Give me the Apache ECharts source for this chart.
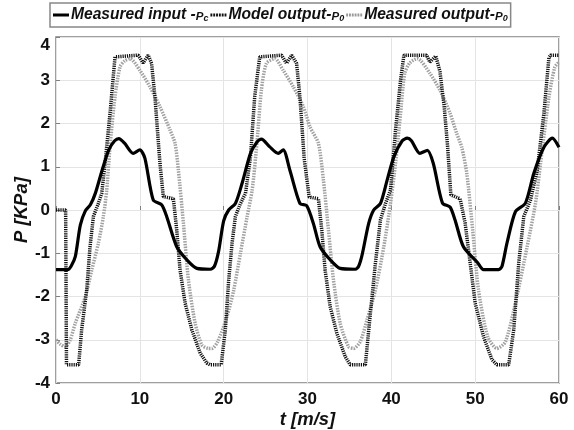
<!DOCTYPE html>
<html>
<head>
<meta charset="utf-8">
<script src="https://cdn.jsdelivr.net/npm/echarts@6/dist/echarts.min.js"></script>
<style>html,body{margin:0;padding:0;background:#fff}#c{width:574px;height:430px}</style>
</head>
<body>
<div id="c"></div>
<script>
// Measured input - Pc (solid black)
var inputT = [0,1.4,1.8,2.3,2.9,3.5,4.1,4.7,5.5,6.3,7.0,7.5,8.2,9.2,10.0,10.6,11.6,12.6,13.2,14.4,15.6,16.8,18.4,18.9,19.4,20.0,20.6,21.4,22.2,23.2,24.0,24.5,25.5,26.5,27.1,27.9,29.1,29.9,30.7,31.5,32.7,33.9,35.7,36.1,36.5,37.3,37.9,38.7,39.5,40.3,41.3,41.9,42.4,43.4,44.3,45.0,46.1,47.0,47.6,48.6,50.3,51.0,52.8,53.2,53.8,54.8,56.0,57.0,58.2,59.2,60];
var inputP = [-1.38,-1.38,-1.3,-1.08,-0.35,-0.02,0.12,0.39,0.92,1.39,1.6,1.65,1.54,1.31,1.39,1.2,0.23,0.12,-0.15,-0.85,-1.15,-1.35,-1.37,-1.3,-0.95,-0.25,0,0.15,0.62,1.31,1.58,1.64,1.46,1.31,1.39,0.92,0.15,0.1,-0.31,-0.85,-1.15,-1.35,-1.37,-1.3,-1.05,-0.31,0,0.15,0.69,1.23,1.6,1.66,1.6,1.31,1.38,1.08,0.16,0.07,-0.23,-0.85,-1.22,-1.38,-1.38,-1.3,-0.76,-0.04,0.16,0.85,1.45,1.66,1.45];

// Model output - P0 (dark dotted)
var modelT = [0,1.15,1.25,2.7,3.06,3.66,4.06,4.46,5.05,5.45,5.85,6.44,7.04,7.24,9.8,10.4,11.0,11.4,11.8,12.4,12.8,14.0,14.4,14.8,15.4,16.2,17.2,18.0,18.4,19.7,20.2,20.6,21.0,21.4,22.0,22.6,23.2,23.7,24.3,24.5,26.9,27.5,28.1,28.7,29.1,29.6,30.2,31.3,31.7,32.1,32.7,33.5,34.5,35.1,36.9,37.5,38.1,38.7,39.3,39.9,40.5,41.1,41.5,44.2,44.6,45.3,45.8,46.3,46.7,47.1,48.2,48.8,49.4,50.0,51.0,52.0,52.6,54.0,54.6,55.2,55.8,56.6,57.4,58.2,58.8,59.0,60];
var modelP = [0,0,-3.58,-3.58,-2.77,-1.85,-0.85,-0.15,0.15,0.38,1.08,2.23,3.54,3.58,3.58,3.4,3.58,3.39,2.62,1.08,0.31,0.26,-0.46,-1.39,-2.15,-2.77,-3.31,-3.54,-3.58,-3.58,-2.77,-1.62,-0.77,-0.15,0.15,0.38,1.23,2.62,3.54,3.58,3.58,3.39,3.58,3.39,2.6,1.2,0.3,0.26,-0.46,-1.39,-2.23,-2.85,-3.39,-3.58,-3.58,-2.39,-1.23,-0.23,0.15,0.46,1.85,3.0,3.58,3.58,3.42,3.56,3.2,2.4,1.5,0.35,0.26,-0.3,-1.22,-2.15,-2.93,-3.46,-3.58,-3.58,-2.77,-1.22,-0.15,0.23,0.92,2.24,3.53,3.58,3.58];

// Measured output - P0 (gray dotted)
var measT = [0,0.5,1.1,1.7,2.3,3.5,4.26,5.05,5.65,6.05,6.44,7.04,7.64,8.2,8.83,10.0,11.2,12.4,13.6,14.2,14.6,15.2,15.8,16.6,17.4,18.2,18.6,19.3,20.4,21.2,22.0,22.8,23.4,24.0,24.5,25.1,26.1,27.1,28.3,29.5,30.3,31.3,31.9,32.5,33.1,33.9,34.9,35.5,36.3,37.1,38.1,39.1,39.9,40.5,41.1,41.6,42.2,43.1,44.6,45.8,47.0,47.8,48.4,49.0,49.7,50.4,51.5,52.6,53.6,54.8,56.2,57.2,57.8,58.8,59.5,60];
var measP = [-3.0,-3.1,-3.16,-3.0,-2.62,-2.0,-1.39,-0.77,-0.15,0.46,1.46,2.62,3.31,3.45,3.5,3.23,2.85,2.39,1.85,1.54,0.92,-0.31,-1.62,-2.62,-3.12,-3.2,-3.2,-3.04,-2.46,-1.85,-1.0,-0.15,0.46,1.62,2.77,3.39,3.5,3.23,2.85,2.39,1.92,1.54,0.69,-0.46,-1.62,-2.62,-3.16,-3.2,-3.04,-2.54,-1.85,-0.85,0.15,1.08,2.23,3.16,3.4,3.5,3.16,2.77,2.24,1.77,1.45,0.85,-0.46,-1.85,-2.93,-3.2,-3.05,-2.15,-0.85,0.16,1.08,2.61,3.3,3.42];

var xTicks = [0,10,20,30,40,50,60];
var yTicks = [-4,-3,-2,-1,0,1,2,3,4];
var seriesNames = ['Measured input', 'Model output', 'Measured output'];
var legendLabels = ['Measured input -{p|P}{s|c}', 'Model output-{p|P}{s|0}', 'Measured output-{p|P}{s|0}'];

function zip(t, p) { return t.map(function (v, i) { return [v, p[i]]; }); }

var FONT = '"Liberation Sans", Arial, sans-serif';
var DOTS = 'path://M0,0h2v3h-2zM3,0h2v3h-2zM6,0h2v3h-2zM9,0h2v3h-2zM12,0h2v3h-2zM15,0h2v3h-2z';
var chart = echarts.init(document.getElementById('c'), null, { renderer: 'canvas' });
chart.setOption({
  animation: false,
  backgroundColor: '#fff',
  grid: { left: 56, right: 15, top: 37, bottom: 47, containLabel: false, outerBoundsMode: 'none',
    show: true, borderColor: '#808080', borderWidth: 1.5, backgroundColor: 'transparent' },
  legend: {
    left: 50, top: 3,
    padding: [4, 3, 4, 3],
    itemGap: 2,
    itemWidth: 16,
    itemHeight: 3,
    symbolKeepAspect: false,
    borderColor: '#888', borderWidth: 1.5, borderRadius: 0,
    data: [
      { name: seriesNames[0], icon: 'rect', itemStyle: { color: '#000' } },
      { name: seriesNames[1], icon: DOTS, itemStyle: { color: '#111' } },
      { name: seriesNames[2], icon: DOTS, itemStyle: { color: '#999' } }
    ],
    formatter: function (name) { return legendLabels[seriesNames.indexOf(name)]; },
    textStyle: {
      fontFamily: FONT, fontWeight: 'bold', fontStyle: 'italic', fontSize: 15.6, color: '#111', padding: [0, 0, 0, -3],
      rich: {
        p: { fontFamily: FONT, fontWeight: 'bold', fontStyle: 'italic', fontSize: 11.5, color: '#111', verticalAlign: 'bottom', padding: [3, 0, 0, 0] },
        s: { fontFamily: FONT, fontWeight: 'bold', fontStyle: 'italic', fontSize: 9, color: '#111', verticalAlign: 'bottom', padding: [6, 0, 0, 0] }
      }
    }
  },
  xAxis: {
    type: 'value', min: 0, max: 60, interval: 10,
    name: 't [m/s]', nameLocation: 'middle', nameGap: 27, nameMoveOverlap: false,
    nameTextStyle: { fontFamily: FONT, fontWeight: 'bold', fontStyle: 'italic', fontSize: 18.5, color: '#111' },
    axisLine: { show: false },
    axisTick: { show: true, inside: true, length: 4, lineStyle: { color: '#808080' } },
    axisLabel: { fontFamily: FONT, fontWeight: 'bold', fontSize: 17, color: '#111', margin: 8,
      formatter: function (v) { return xTicks.indexOf(v) >= 0 ? String(v) : ''; } },
    splitLine: { show: true, lineStyle: { color: '#e4e4e4', width: 1 } }
  },
  yAxis: {
    type: 'value', min: -4, max: 4, interval: 1,
    name: 'P [KPa]', nameLocation: 'middle', nameGap: 25, nameRotate: 90, nameMoveOverlap: false,
    nameTextStyle: { fontFamily: FONT, fontWeight: 'bold', fontStyle: 'italic', fontSize: 18.5, color: '#111' },
    axisLine: { show: false },
    axisTick: { show: true, inside: true, length: 4, lineStyle: { color: '#808080' } },
    axisLabel: { fontFamily: FONT, fontWeight: 'bold', fontSize: 17, color: '#111', margin: 6,
      formatter: function (v) { return yTicks.indexOf(v) >= 0 ? (v === 4 ? '{t|4}' : String(v)) : ''; },
      rich: { t: { fontFamily: FONT, fontWeight: 'bold', fontSize: 17, color: '#111', padding: [16, 0, 0, 0] } } },
    splitLine: { show: true, lineStyle: { color: '#e4e4e4', width: 1 } }
  },
  series: [
    { name: seriesNames[0], type: 'line', data: zip(inputT, inputP), symbol: 'none', smooth: 0.25,
      lineStyle: { color: '#000', width: 3.2 }, itemStyle: { color: '#000' }, z: 4 },
    { name: seriesNames[1], type: 'line', data: zip(modelT, modelP), symbol: 'none', smooth: false,
      lineStyle: { color: '#111', width: 3.5, type: [1.2, 1] }, itemStyle: { color: '#111' }, z: 3 },
    { name: seriesNames[2], type: 'line', data: zip(measT, measP), symbol: 'none', smooth: 0.25,
      lineStyle: { color: '#a0a0a0', width: 3.5, type: [1.5, 1.2] }, itemStyle: { color: '#a0a0a0' }, z: 2 }
  ]
});
</script>
</body>
</html>
